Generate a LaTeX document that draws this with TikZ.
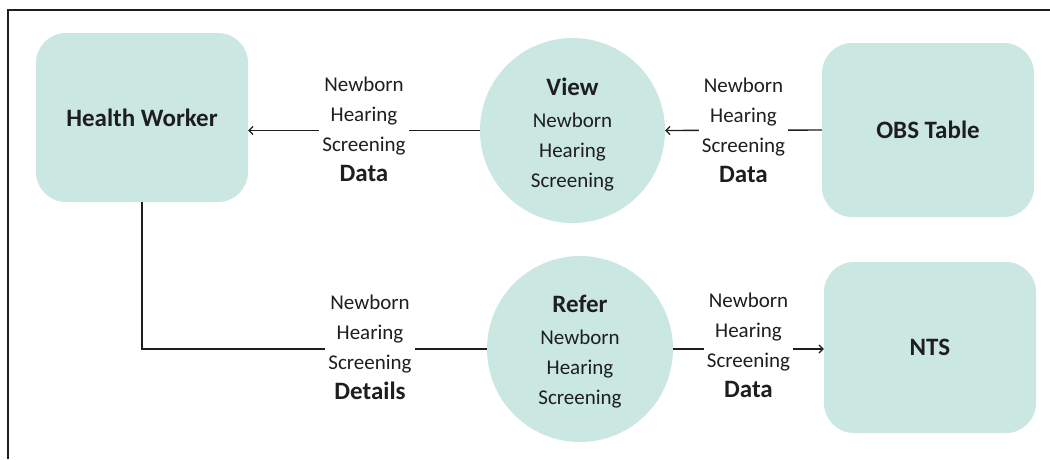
\documentclass[tikz,border=0pt]{standalone}
\usepackage{fontspec}
\setmainfont{Carlito}
\usetikzlibrary{arrows.meta}
\definecolor{paleteal}{RGB}{203,231,225}
\definecolor{inkgray}{RGB}{30,30,30}
\begin{document}
\begin{tikzpicture}[x=1pt,y=-1pt,
  entity/.style={fill=paleteal, rounded corners=30pt, minimum width=212pt,
    font=\fontsize{25}{30}\selectfont\bfseries, text=inkgray},
  process/.style={circle, fill=paleteal, inner sep=0pt},
  proctext/.style={align=center, inner sep=0pt,
    font=\fontsize{21}{30}\selectfont, text=inkgray},
  flowlabel/.style={fill=white, inner sep=3pt, align=center,
    font=\fontsize{21}{30}\selectfont, text=inkgray},
  flow/.style={draw=inkgray, line width=1.4pt},
  flowarrow/.style={flow, -{Straight Barb[length=4pt,width=8pt,line width=1.2pt]}}
]
\useasboundingbox (0,0) rectangle (1050,459);
% frame
\draw[inkgray, line width=1.3pt] (8,459) -- (8,10) -- (1050,10);

% entities
\node[entity, minimum height=169pt] (hw)  at (142,117.5) {Health Worker};
\node[entity, minimum height=174pt] (obs) at (928,130)   {OBS Table};
\node[entity, minimum height=171pt] (nts) at (930,347.5) {NTS};

% processes (circle with its caption set a little below centre)
\node[process, minimum size=185pt,
  label={[proctext, yshift=-4pt]center:{{\fontsize{25}{30}\selectfont\bfseries View}\\[2pt]Newborn\\Hearing\\Screening}}]
  (view) at (572.5,130.5) {};
\node[process, minimum size=186pt,
  label={[proctext, yshift=-3pt]center:{{\fontsize{25}{30}\selectfont\bfseries Refer}\\[2pt]Newborn\\Hearing\\Screening}}]
  (refer) at (580,349) {};

% flows
\draw[flowarrow] (obs.west) -- (view.east)
  node[flowlabel, midway] {Newborn\\Hearing\\Screening\\{\fontsize{25}{30}\selectfont\bfseries Data}};
\draw[flowarrow] (view.west) -- (view.west -| hw.east)
  node[flowlabel, midway, yshift=1pt] {Newborn\\Hearing\\Screening\\{\fontsize{25}{30}\selectfont\bfseries Data}};
\draw[flow] (hw.south) |- (refer.west);
\coordinate (detailsat) at (370,347);
\node[flowlabel] at (detailsat) {Newborn\\Hearing\\Screening\\{\fontsize{25}{30}\selectfont\bfseries Details}};
\draw[flowarrow] (refer.east) -- (refer.east -| nts.west)
  node[flowlabel, midway, yshift=4pt] {Newborn\\Hearing\\Screening\\{\fontsize{25}{30}\selectfont\bfseries Data}};
\end{tikzpicture}
\end{document}
